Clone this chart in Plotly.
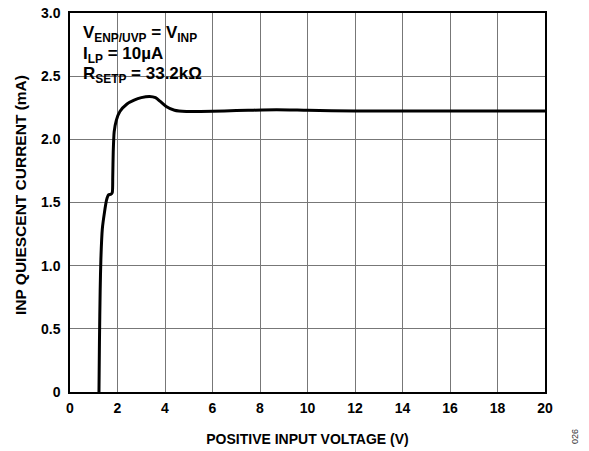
import plotly.graph_objects as go

voltage = [1.22, 1.24, 1.27, 1.30, 1.36, 1.45, 1.54, 1.62, 1.72, 1.78, 1.80, 1.82, 1.86,
           1.95, 2.10, 2.40, 2.70, 3.00, 3.35, 3.60, 3.80, 4.05, 4.40, 4.90, 5.50, 6.50,
           7.50, 8.70, 10.0, 12.0, 14.0, 16.0, 18.0, 20.0]
current = [0.0, 0.40, 0.80, 1.05, 1.29, 1.42, 1.52, 1.56, 1.565, 1.58, 1.70, 1.90, 2.06,
           2.15, 2.22, 2.28, 2.31, 2.33, 2.34, 2.33, 2.30, 2.26, 2.23, 2.22, 2.22, 2.225,
           2.23, 2.235, 2.23, 2.225, 2.225, 2.225, 2.225, 2.225]

x_ticks = [0, 2, 4, 6, 8, 10, 12, 14, 16, 18, 20]
y_ticks = [0, 0.5, 1.0, 1.5, 2.0, 2.5, 3.0]
y_tick_text = ["0", "0.5", "1.0", "1.5", "2.0", "2.5", "3.0"]

legend_lines = [
    "V<sub>ENP/UVP</sub> = V<sub>INP</sub>",
    "I<sub>LP</sub> = 10µA",
    "R<sub>SETP</sub> = 33.2kΩ",
]

FONT = "Liberation Sans, Arial, sans-serif"
W, H = 589, 451
L, R, T, B = 70, 44, 13, 59
PW, PH = W - L - R, H - T - B


def px_x(p):
    return (p - L) / PW


def px_y(p):
    return (H - B - p) / PH


fig = go.Figure()
fig.add_trace(go.Scatter(x=voltage, y=current, mode="lines",
                         line=dict(color="black", width=3, shape="spline", smoothing=0.6),
                         showlegend=False, hoverinfo="skip"))

fig.update_layout(
    width=W, height=H,
    margin=dict(l=L, r=R, t=T, b=B),
    paper_bgcolor="white", plot_bgcolor="white",
    font=dict(family=FONT, color="black"),
    xaxis=dict(range=[0, 20], tickvals=x_ticks, ticktext=[str(v) for v in x_ticks],
               showgrid=True, gridcolor="#777", gridwidth=1,
               showline=True, linecolor="black", linewidth=1.5, mirror=True,
               ticks="", zeroline=False, automargin=False, ticklabelstandoff=2,
               tickfont=dict(size=14, family=FONT, weight="bold"),
               title=dict(text="<b>POSITIVE INPUT VOLTAGE (V)</b>", font=dict(size=14), standoff=20)),
    yaxis=dict(range=[0, 3.0], tickvals=y_ticks, ticktext=y_tick_text,
               showgrid=True, gridcolor="#777", gridwidth=1,
               showline=True, linecolor="black", linewidth=1.5, mirror=True,
               ticks="", zeroline=False, automargin=False, ticklabelstandoff=5,
               tickfont=dict(size=14, family=FONT, weight="bold")),
)

# white background box behind the condition text (covers gridlines)
fig.add_shape(type="rect", xref="paper", yref="paper",
              x0=px_x(76), x1=px_x(216), y0=px_y(79), y1=px_y(22),
              fillcolor="white", line=dict(width=0), layer="between")

line_tops = [22, 43.5, 63]
for top, line in zip(line_tops, legend_lines):
    fig.add_annotation(
        xref="paper", yref="paper", x=px_x(82), y=px_y(top),
        xanchor="left", yanchor="top",
        text="<b>" + line + "</b>", showarrow=False, align="left", borderpad=0,
        font=dict(size=17, family=FONT, color="black"),
    )

# y axis title
fig.add_annotation(
    xref="paper", yref="paper", x=px_x(20), y=px_y(195), xanchor="center", yanchor="middle",
    text="<b>INP QUIESCENT CURRENT (mA)</b>", textangle=-90, showarrow=False,
    font=dict(size=15.5, family=FONT, color="black"),
)

fig.add_annotation(
    xref="paper", yref="paper", x=px_x(575), y=px_y(437), xanchor="center", yanchor="middle",
    text="026", textangle=-90, showarrow=False,
    font=dict(size=9, family=FONT, color="#333"),
)

fig.write_html("out.html", config={"displayModeBar": False},
               post_script="document.body.style.margin='0';")
